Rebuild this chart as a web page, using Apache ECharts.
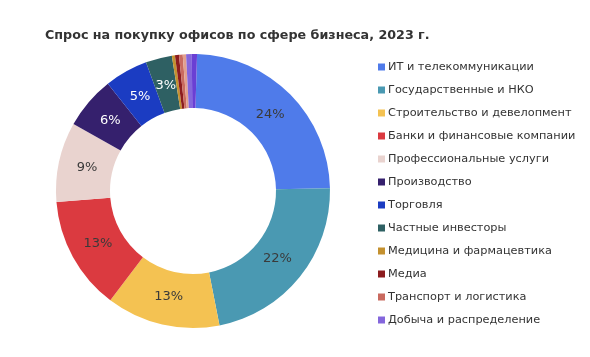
<!DOCTYPE html>
<html>
<head>
<meta charset="utf-8">
<script src="https://cdn.jsdelivr.net/npm/echarts@6/dist/echarts.min.js"></script>
<style>
html,body{margin:0;padding:0;background:#fff;}
#chart{width:590px;height:357px;}
</style>
</head>
<body>
<div id="chart"></div>
<script>
var titleText = 'Спрос на покупку офисов по сфере бизнеса, 2023 г.';
var categories = [
  'ИТ и телекоммуникации',
  'Государственные и НКО',
  'Строительство и девелопмент',
  'Банки и финансовые компании',
  'Профессиональные услуги',
  'Производство',
  'Торговля',
  'Частные инвесторы',
  'Медицина и фармацевтика',
  'Медиа',
  'Транспорт и логистика',
  'Прочие',
  'Добыча и распределение',
  'Другие'
];
var legendCategories = [
  'ИТ и телекоммуникации',
  'Государственные и НКО',
  'Строительство и девелопмент',
  'Банки и финансовые компании',
  'Профессиональные услуги',
  'Производство',
  'Торговля',
  'Частные инвесторы',
  'Медицина и фармацевтика',
  'Медиа',
  'Транспорт и логистика',
  'Добыча и распределение'
];
var values = [24.2, 22.2, 13.4, 13.4, 9.4, 6.2, 5.1, 3.1, 0.36, 0.47, 0.44, 0.39, 0.67, 0.61];
var colors = ['#4f7bea', '#4a99b2', '#f4c252', '#db3a40', '#e9d3cf', '#35206d', '#1b3cc2', '#2e6063',
              '#c4912f', '#8c1c1e', '#c96a5f', '#e2a08e', '#8466dc', '#6a3fd4'];
var darkLabel = [false, false, false, false, false, true, true, true, false, false, false, false, false, false];

var chart = echarts.init(document.getElementById('chart'), null, {renderer: 'canvas'});
var data = categories.map(function (c, i) {
  return {name: c, value: values[i], itemStyle: {color: colors[i]}};
});
var labelData = categories.map(function (c, i) {
  return {
    name: c,
    value: values[i],
    itemStyle: {color: 'rgba(0,0,0,0)'},
    label: {color: darkLabel[i] ? '#ffffff' : '#3a3a3a'}
  };
});
chart.setOption({
  animation: false,
  backgroundColor: '#ffffff',
  title: {
    text: titleText,
    left: 40,
    top: 24,
    textStyle: {fontFamily: 'DejaVu Sans', fontWeight: 'bold', fontSize: 12.7, color: '#333333'}
  },
  legend: {
    orient: 'vertical',
    left: 373,
    top: 55,
    data: legendCategories,
    icon: 'rect',
    itemWidth: 7,
    itemHeight: 7,
    itemGap: 9,
    textStyle: {fontFamily: 'DejaVu Sans', fontSize: 11.3, color: '#333333', lineHeight: 14, padding: [0, 0, 0, -2]}
  },
  series: [{
    type: 'pie',
    center: [193, 191],
    radius: [83, 137],
    startAngle: 88.3,
    clockwise: true,
    data: data,
    label: {show: false},
    labelLine: {show: false},
    emphasis: {disabled: true}
  }, {
    type: 'pie',
    center: [193, 191],
    radius: [76, 135],
    startAngle: 88.3,
    clockwise: true,
    silent: true,
    legendHoverLink: false,
    avoidLabelOverlap: false,
    data: labelData,
    label: {
      show: true,
      position: 'inside',
      fontFamily: 'DejaVu Sans',
      fontSize: 13,
      formatter: function (p) {
        return p.percent >= 2 ? Math.round(p.percent) + '%' : '';
      }
    },
    labelLine: {show: false},
    emphasis: {disabled: true}
  }]
});
</script>
</body>
</html>
